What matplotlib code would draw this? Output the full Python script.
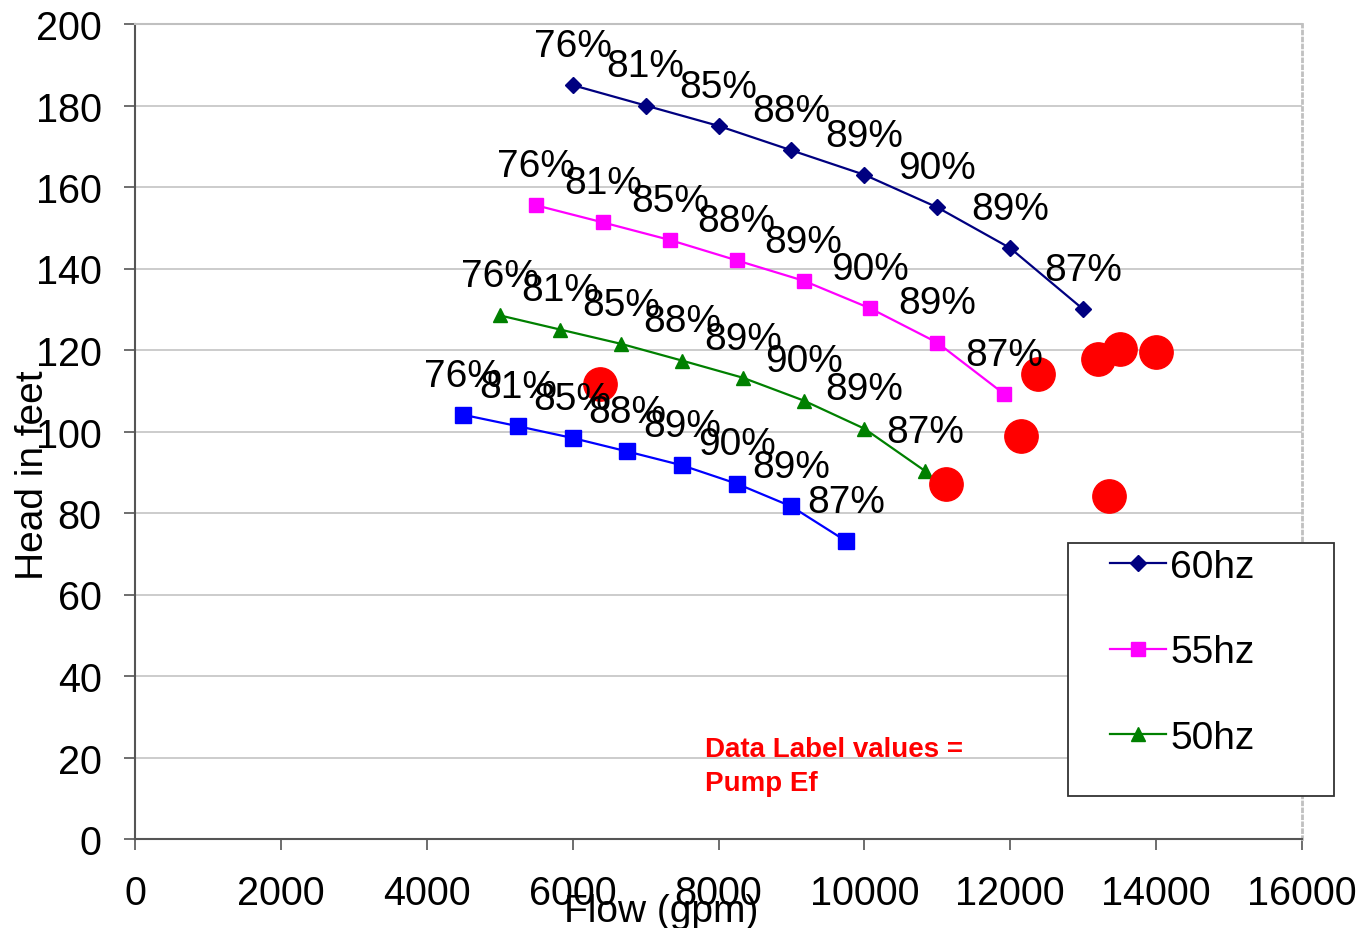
import matplotlib
matplotlib.use("Agg")
import matplotlib.pyplot as plt
from matplotlib.patches import Rectangle

plt.rcParams['font.family'] = ['Liberation Sans', 'DejaVu Sans']

# ---- data ----
flow_60 = [6000, 7000, 8000, 9000, 10000, 11000, 12000, 13000]
head_60 = [185, 180, 175, 169, 163, 155, 145, 130]
flow_55 = [5500, 6417, 7333, 8250, 9167, 10083, 11000, 11917]
head_55 = [155.5, 151.3, 147.0, 142.0, 137.0, 130.2, 121.8, 109.2]
flow_50 = [5000, 5833, 6667, 7500, 8333, 9167, 10000, 10833]
head_50 = [128.5, 125.0, 121.5, 117.4, 113.2, 107.6, 100.7, 90.3]
flow_45 = [4500, 5250, 6000, 6750, 7500, 8250, 9000, 9750]
head_45 = [104.1, 101.3, 98.4, 95.1, 91.7, 87.2, 81.6, 73.1]
eff_labels = ["76%", "81%", "85%", "88%", "89%", "90%", "89%", "87%"]

ops_flow = [6370, 12380, 12150, 11120, 13200, 13500, 14000, 13350]
ops_head = [111.6, 114.1, 98.9, 87.1, 117.8, 120.2, 119.5, 84.2]

x_ticks = [0, 2000, 4000, 6000, 8000, 10000, 12000, 14000, 16000]
y_ticks = [0, 20, 40, 60, 80, 100, 120, 140, 160, 180, 200]

W, H = 1361, 929
fig = plt.figure(figsize=(W / 100, H / 100), dpi=100)
ax = fig.add_axes([135 / W, 1 - 840 / H, (1302 - 135) / W, (840 - 25) / H])

FS = 28

series = [
    (flow_60, head_60, '#000080', 'D', 8, '60hz'),
    (flow_55, head_55, '#FF00FF', 's', 10, '55hz'),
    (flow_50, head_50, '#008000', '^', 10, '50hz'),
    (flow_45, head_45, '#0000FF', 's', 11, None),
]
handles = []
for fx, hy, col, mk, ms, lab in series:
    ln, = ax.plot(fx, hy, color=col, marker=mk, markersize=ms, linewidth=1.6,
                  markeredgecolor=col, zorder=3, clip_on=False)
    if lab:
        handles.append((ln, lab))
    for x, y, t in zip(fx, hy, eff_labels):
        ax.annotate(t, (x, y), xytext=(0, 21), textcoords='offset points',
                    ha='center', va='baseline', fontsize=FS, color='black', zorder=5)

ax.plot(ops_flow, ops_head, linestyle='none', marker='o', markersize=24,
        color='#FF0000', markeredgecolor='#FF0000', zorder=4)

ax.set_xlim(0, 16000)
ax.set_ylim(0, 200)
ax.set_xticks(x_ticks)
ax.set_yticks(y_ticks)
ax.tick_params(axis='both', labelsize=28.5, direction='out', length=8, width=1.2,
               color='#555555')
ax.tick_params(axis='y', pad=16)
ax.tick_params(axis='x', pad=17)
ax.yaxis.grid(True, color='#C8C8C8', linewidth=1.3)
ax.set_axisbelow(True)
for s in ['left', 'bottom']:
    ax.spines[s].set_color('#555555')
    ax.spines[s].set_linewidth(1.5)
ax.spines['top'].set_color('#C0C0C0')
ax.spines['top'].set_linestyle((0, (2, 1)))
ax.spines['top'].set_linewidth(1.5)
ax.spines['right'].set_color('#C0C0C0')
ax.spines['right'].set_linestyle((0, (1, 1.5)))
ax.spines['right'].set_linewidth(2)

fig.text(661 / W, 1 - 922 / H, 'Flow (gpm)', ha='center', va='baseline', fontsize=FS)
fig.text(33 / W, 1 - 475 / H, 'Head in feet', ha='center', va='center',
         rotation=90, fontsize=FS)

fig.text(705 / W, 1 - 757 / H, 'Data Label values =', ha='left', va='baseline',
         fontsize=20, fontweight='bold', color='#FF0000')
fig.text(705 / W, 1 - 791 / H, 'Pump Ef', ha='left', va='baseline',
         fontsize=20, fontweight='bold', color='#FF0000')

# legend frame
fig.patches.append(Rectangle((1068 / W, 1 - 797 / H), (1334 - 1068) / W, (797 - 544) / H,
                             transform=fig.transFigure, facecolor='white',
                             edgecolor='#333333', linewidth=1.3, zorder=10))
leg = fig.legend([h for h, _ in handles], [l for _, l in handles],
                 loc='upper left', bbox_to_anchor=(1110 / W, 1 - 550 / H),
                 bbox_transform=fig.transFigure, frameon=False, fontsize=FS,
                 handlelength=1.45, handletextpad=0.1, labelspacing=1.27,
                 borderpad=0, borderaxespad=0, markerscale=1.0)
leg.set_zorder(11)

fig.savefig('out.png', dpi=100)
